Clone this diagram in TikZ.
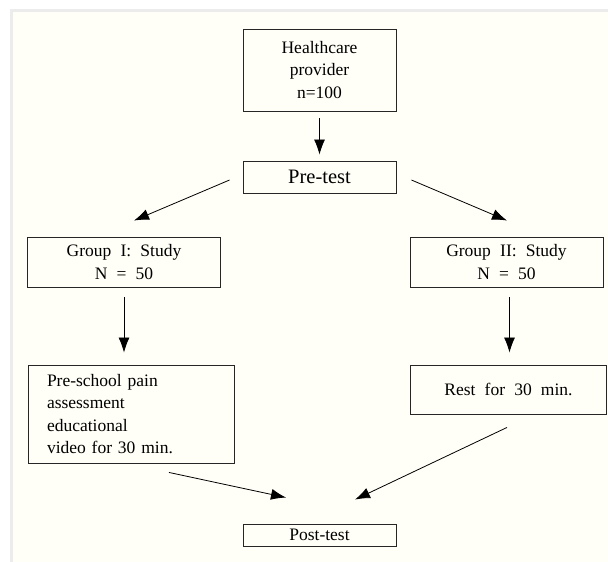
\documentclass[tikz,border=0pt]{standalone}
\usepackage{fontspec}
\setmainfont{Liberation Serif}[WordSpace=2.1]
\usetikzlibrary{arrows.meta}
\definecolor{paper}{RGB}{255,255,247}
\definecolor{rim}{RGB}{236,236,236}

\begin{document}
\begin{tikzpicture}[%
    x=1pt, y=-1pt,
    auto,
    block/.style={
      rectangle,
      draw=black!85,
      line width=0.9pt,
      fill=none,
      align=center,
      inner sep=0pt,
      minimum width=153pt,
      font=\fontsize{17.5}{22.5}\selectfont
    },
    block1/.style={
      rectangle,
      draw=black!85,
      line width=0.9pt,
      fill=none,
      text width=168pt,
      align=left,
      inner xsep=19pt,
      inner ysep=0pt,
      minimum height=98pt,
      font=\fontsize{17.5}{22.5}\selectfont
    },
    line/.style={
      draw,
      line width=0.8pt,
      -{Latex[length=15pt,width=11pt]}
    }
  ]
    % page
    \fill[white] (0,0) rectangle (608,562);
    \fill[rim] (10,9) rectangle (608,562);
    \fill[paper] (13,12) rectangle (608,562);
    \useasboundingbox (0,0) rectangle (608,562);

    \draw (319.5,70) node[block, minimum height=82pt] (hc) {Healthcare\\provider\\n=100};
    \draw (319.5,177) node[block, minimum height=32pt,
      font=\fontsize{20.5}{24}\selectfont] (pre) {Pre-test};

    \draw (124,262) node[block, minimum width=192.5pt, minimum height=50pt] (g1)
      {Group I: Study\\N = 50};
    \draw (506.5,262) node[block, minimum width=193pt, minimum height=50pt] (g2)
      {Group II: Study\\N = 50};

    \draw (131,414) node[block1] (vid)
      {Pre-school pain\\assessment\\educational\\video for 30 min.};
    \draw (508.5,389.5) node[block, minimum width=196pt, minimum height=49pt] (rest)
      {Rest for 30 min.};

    \draw (319.5,535) node[block, minimum height=22pt] (post) {Post-test};

    \draw[line, shorten <=7pt, shorten >=6pt] (hc) -- (pre);
    \draw[line] ([xshift=-13pt,yshift=-3pt]pre.west) -- ([xshift=10pt,yshift=16pt]g1.north);
    \draw[line] ([xshift=15pt,yshift=-3pt]pre.east) -- ([xshift=0.5pt,yshift=16pt]g2.north);
    \draw[line, shorten <=10pt, shorten >=12pt] (g1.south) -- (g1.south |- vid.north);
    \draw[line, shorten <=10pt, shorten >=12pt] ([xshift=3pt]g2.south) -- ([xshift=3pt]g2.south |- rest.north);
    \draw[line] ([xshift=38pt,yshift=-9pt]vid.south) -- ([xshift=-33.5pt,yshift=26pt]post.north);
    \draw[line] ([xshift=-1.5pt,yshift=-13pt]rest.south) -- ([xshift=35.5pt,yshift=24pt]post.north);

  \end{tikzpicture}
\end{document}
